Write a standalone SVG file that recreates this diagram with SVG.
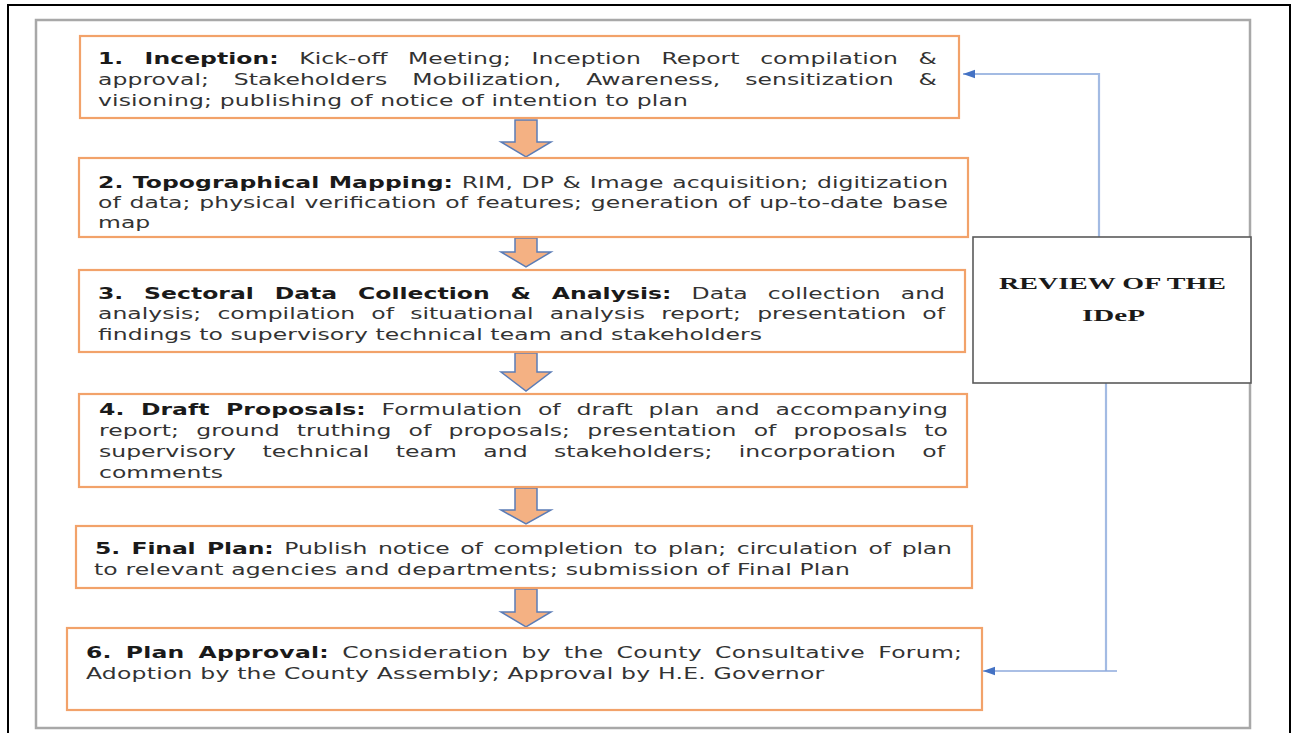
<svg xmlns="http://www.w3.org/2000/svg" width="1296" height="733" viewBox="0 0 1296 733">
<defs>
<style>
.frame{fill:none;stroke:#000;stroke-width:2}
.inner{fill:none;stroke:#a8a8a8;stroke-width:2.5}
.box{fill:#fff;stroke:#f2a26a;stroke-width:2.2}
.rev{fill:#fff;stroke:#5a5a5a;stroke-width:1.6}
.t{font-family:"DejaVu Sans","Liberation Sans",sans-serif;font-size:15.5px;fill:#333}
.b{font-weight:700;fill:#1a1a1a}
.rt{font-family:"Liberation Serif","DejaVu Serif",serif;font-size:17.5px;font-weight:700;fill:#1a1a1a}
.barrow{fill:#f4b183;stroke:#5b7cb6;stroke-width:1.5;stroke-linejoin:miter}
.conn{fill:none;stroke:#a3bbe3;stroke-width:2.2}
.conn2{fill:none;stroke:#8eaadc;stroke-width:1.5}
</style>
<marker id="ah" markerUnits="userSpaceOnUse" markerWidth="14" markerHeight="10" refX="12" refY="5" orient="auto">
<path d="M0,0.8 L12,5 L0,9.2 Z" fill="#4472c4"/>
</marker>
</defs>
<rect x="0" y="0" width="1296" height="733" fill="#fff"/>
<rect class="frame" x="8" y="5" width="1282" height="740"/>
<rect class="inner" x="36" y="20" width="1214" height="708"/>

<g id="connectors">
<path class="conn" d="M1099,237 V74 H963" marker-end="url(#ah)"/>
<path class="conn" d="M1106,383 V671"/>
<path class="conn2" d="M1117,671 H983" marker-end="url(#ah)"/>
<polygon class="barrow" points="515,120 537,120 537,142 551,142 526,157 501,142 515,142"/>
<polygon class="barrow" points="515,238 537,238 537,252 551,252 526,267 501,252 515,252"/>
<polygon class="barrow" points="515,353 537,353 537,372 551,372 526,391 501,372 515,372"/>
<polygon class="barrow" points="515,488 537,488 537,510 551,510 526,524 501,510 515,510"/>
<polygon class="barrow" points="515,589 537,589 537,612 551,612 526,627 501,612 515,612"/>
</g>

<g id="node1">
<rect class="box" x="80" y="36" width="879" height="82"/>
<text class="t" transform="translate(98,63.5) scale(1.5174,1)" textLength="552.9" lengthAdjust="spacing" style="word-spacing:8.63px"><tspan class="b">1. Inception:</tspan> Kick-off Meeting; Inception Report compilation &amp;</text>
<text class="t" transform="translate(98,84.5) scale(1.5174,1)" textLength="552.9" lengthAdjust="spacing" style="word-spacing:11.4px">approval; Stakeholders Mobilization, Awareness, sensitization &amp;</text>
<text class="t" transform="translate(98,105.5) scale(1.5174,1)" textLength="388.8" lengthAdjust="spacing">visioning; publishing of notice of intention to plan</text>
</g>

<g id="node2">
<rect class="box" x="79" y="158" width="889" height="79"/>
<text class="t" transform="translate(98,187.5) scale(1.5174,1)" textLength="560.2" lengthAdjust="spacing" style="word-spacing:0.72px"><tspan class="b">2. Topographical Mapping:</tspan> RIM, DP &amp; Image acquisition; digitization</text>
<text class="t" transform="translate(98,207.5) scale(1.5174,1)" textLength="560.2" lengthAdjust="spacing" style="word-spacing:0.91px">of data; physical verification of features; generation of up-to-date base</text>
<text class="t" transform="translate(98,227.5) scale(1.5174,1)">map</text>
</g>

<g id="node3">
<rect class="box" x="79" y="270" width="886" height="82"/>
<text class="t" transform="translate(98,298.5) scale(1.5174,1)" textLength="558.2" lengthAdjust="spacing" style="word-spacing:8.3px"><tspan class="b">3. Sectoral Data Collection &amp; Analysis:</tspan> Data collection and</text>
<text class="t" transform="translate(98,319) scale(1.5174,1)" textLength="558.2" lengthAdjust="spacing" style="word-spacing:5.67px">analysis; compilation of situational analysis report; presentation of</text>
<text class="t" transform="translate(98,339.5) scale(1.5174,1)" textLength="437.6" lengthAdjust="spacing">findings to supervisory technical team and stakeholders</text>
</g>

<g id="node4">
<rect class="box" x="79" y="394" width="888" height="93"/>
<text class="t" transform="translate(99,414.5) scale(1.5174,1)" textLength="559.5" lengthAdjust="spacing" style="word-spacing:5.5px"><tspan class="b">4. Draft Proposals:</tspan> Formulation of draft plan and accompanying</text>
<text class="t" transform="translate(99,435.5) scale(1.5174,1)" textLength="559.5" lengthAdjust="spacing" style="word-spacing:6.33px">report; ground truthing of proposals; presentation of proposals to</text>
<text class="t" transform="translate(99,456.5) scale(1.5174,1)" textLength="557.5" lengthAdjust="spacing" style="word-spacing:12.46px">supervisory technical team and stakeholders; incorporation of</text>
<text class="t" transform="translate(99,477.5) scale(1.5174,1)">comments</text>
</g>

<g id="node5">
<rect class="box" x="76" y="526" width="896" height="62"/>
<text class="t" transform="translate(95,553.5) scale(1.5174,1)" textLength="564.8" lengthAdjust="spacing" style="word-spacing:2.23px"><tspan class="b">5. Final Plan:</tspan> Publish notice of completion to plan; circulation of plan</text>
<text class="t" transform="translate(94,574.5) scale(1.5174,1)" textLength="498.2" lengthAdjust="spacing">to relevant agencies and departments; submission of Final Plan</text>
</g>

<g id="node6">
<rect class="box" x="67" y="628" width="915" height="82"/>
<text class="t" transform="translate(86,657.5) scale(1.5174,1)" textLength="577.3" lengthAdjust="spacing" style="word-spacing:3.62px"><tspan class="b">6. Plan Approval:</tspan> Consideration by the County Consultative Forum;</text>
<text class="t" transform="translate(86,678.5) scale(1.5174,1)" textLength="486.5" lengthAdjust="spacing">Adoption by the County Assembly; Approval by H.E. Governor</text>
</g>

<g id="review">
<rect class="rev" x="973" y="237" width="278" height="146"/>
<text class="rt" x="999" y="289" textLength="227" lengthAdjust="spacingAndGlyphs">REVIEW OF THE</text>
<text class="rt" x="1082" y="321" textLength="63" lengthAdjust="spacingAndGlyphs">IDeP</text>
</g>
</svg>
